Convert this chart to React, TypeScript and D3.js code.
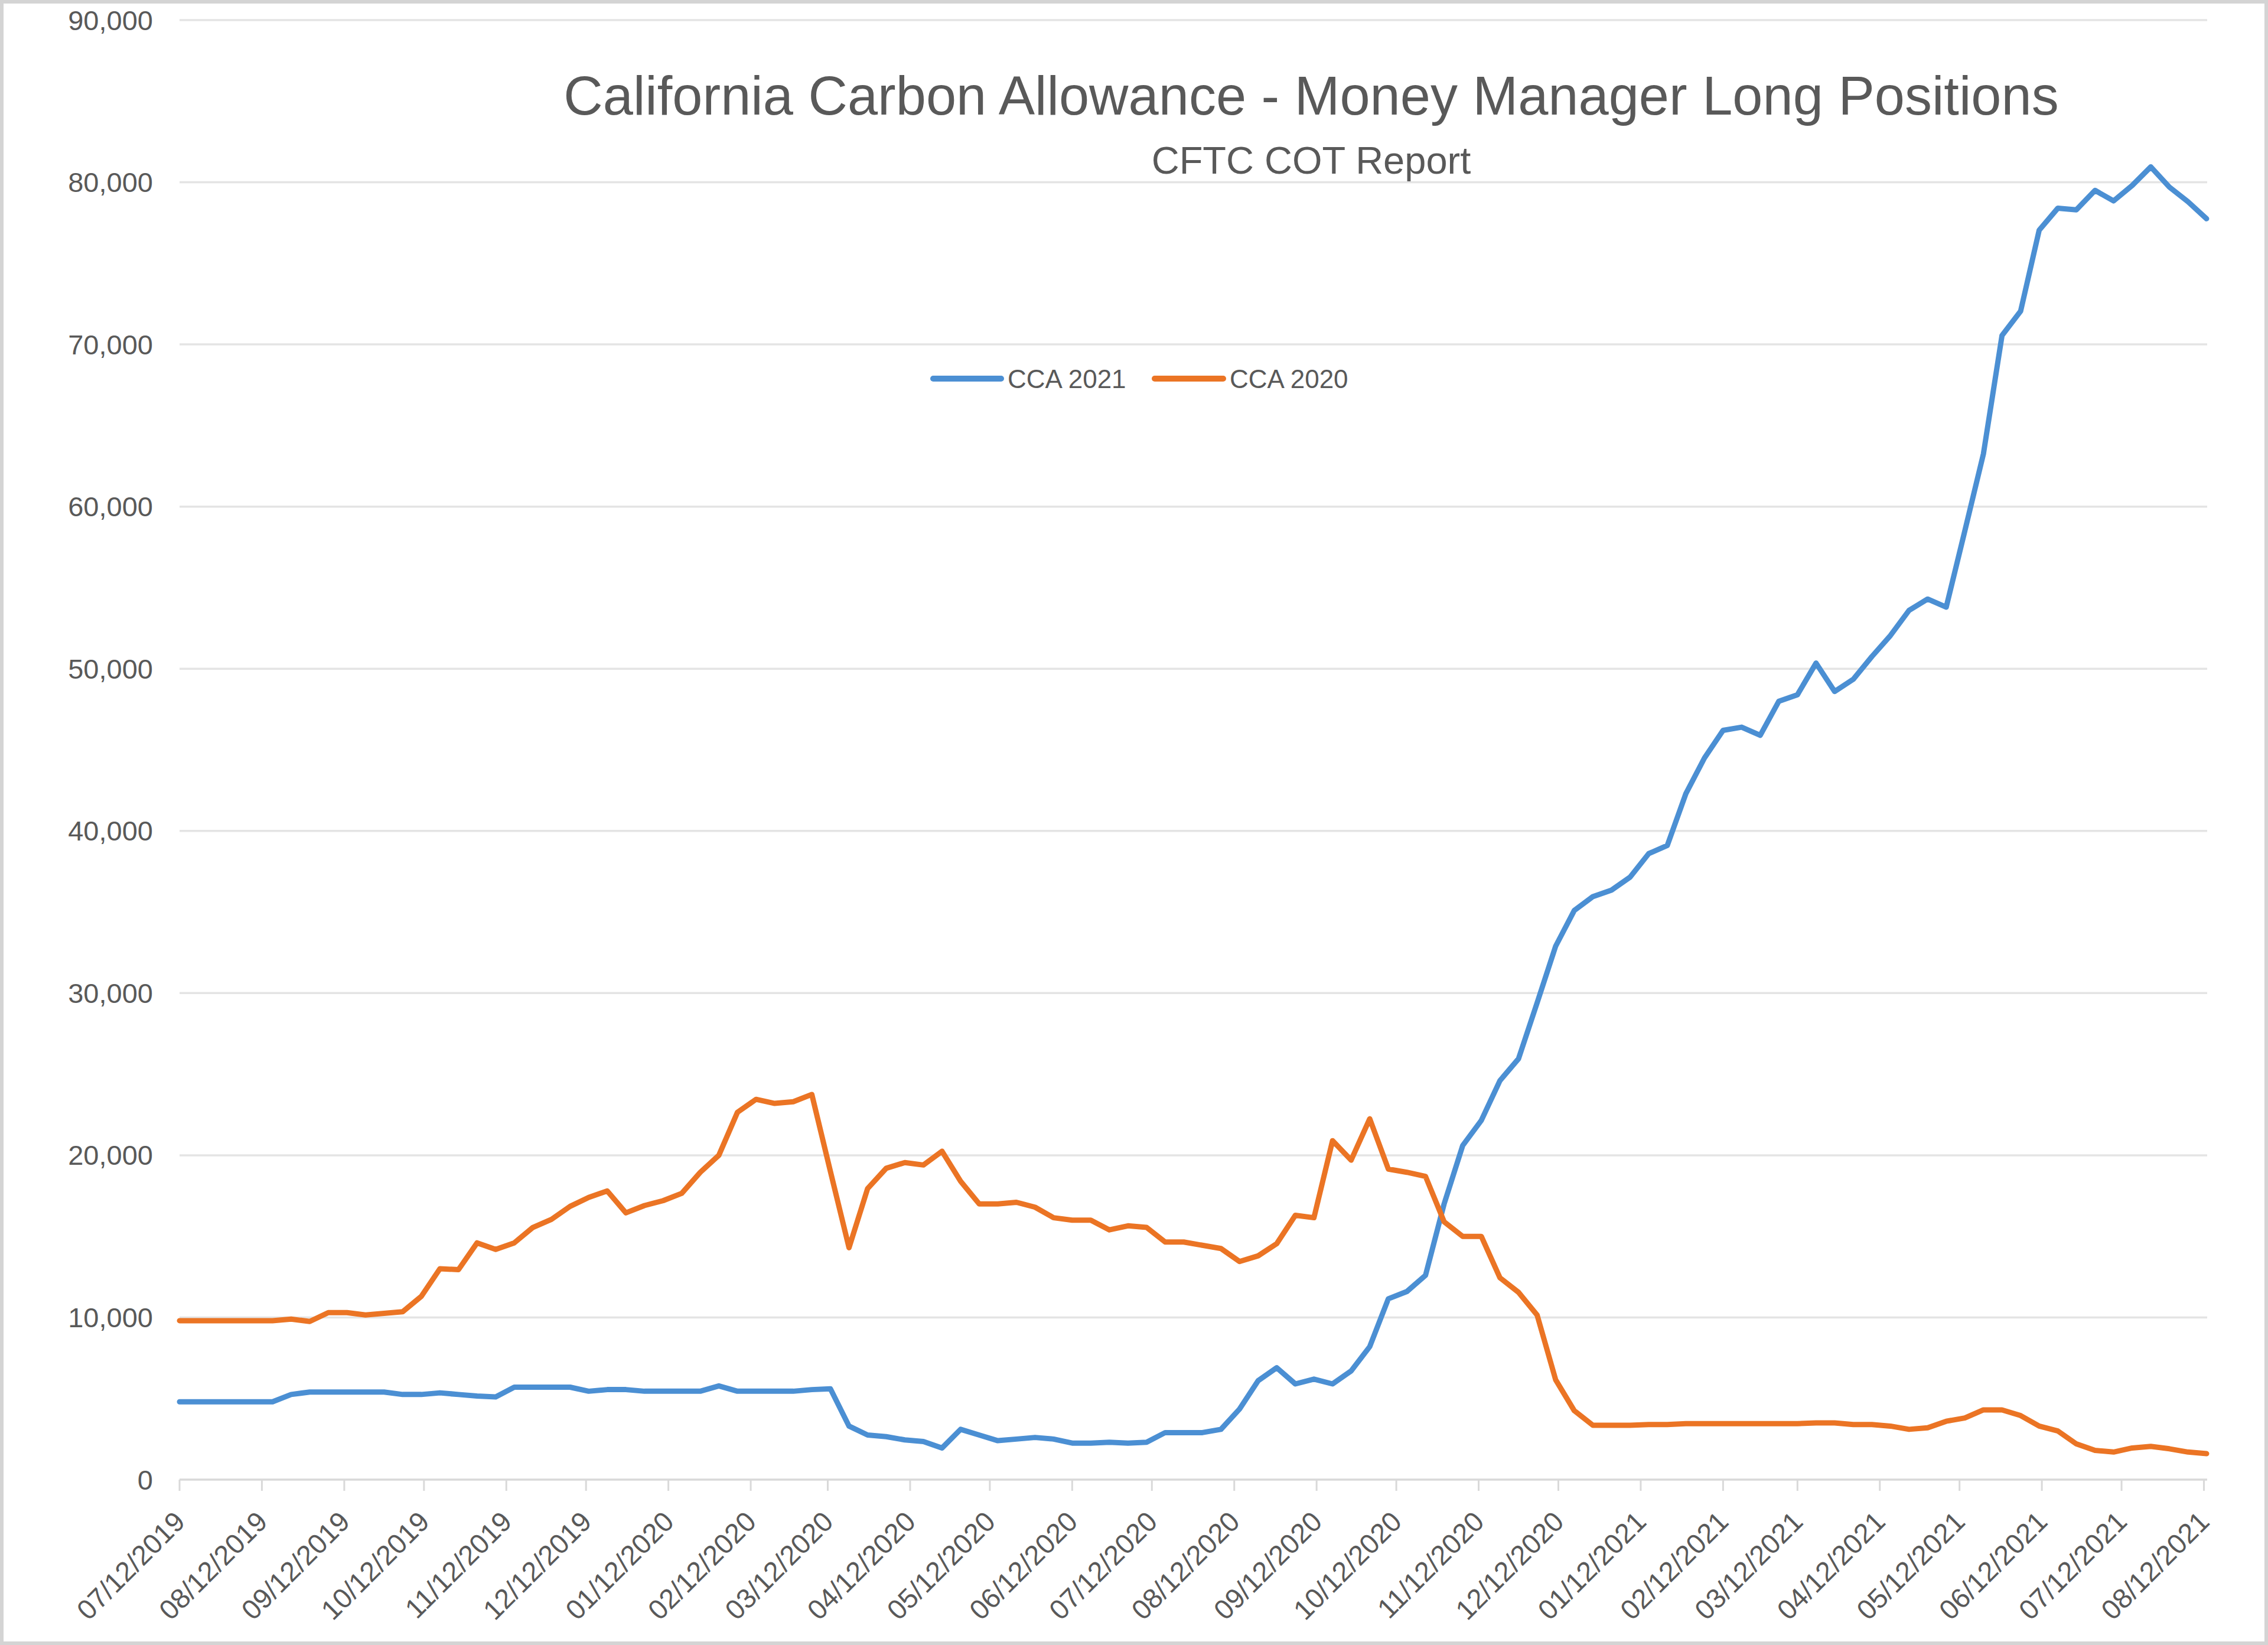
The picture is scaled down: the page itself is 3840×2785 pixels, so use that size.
import React from 'react';
import * as d3 from 'd3';

const WIDTH = 3840;
const HEIGHT = 2785;

// weekly COT report dates (Fridays), 07/12/2019 .. 08/13/2021
const weekDates = d3.timeFriday.range(new Date(2019, 6, 12), new Date(2021, 7, 14));

// money manager long positions, CCA 2021 vintage
const cca2021 = [
  4800, 4800, 4800, 4800, 4800, 4800, 5250, 5400, 5400, 5400,
  5400, 5400, 5250, 5250, 5350, 5250, 5150, 5100, 5700, 5700,
  5700, 5700, 5450, 5550, 5550, 5450, 5450, 5450, 5450, 5780,
  5450, 5450, 5450, 5450, 5550, 5600, 3300, 2750, 2650, 2450,
  2350, 1950, 3100, 2750, 2400, 2500, 2600, 2500, 2250, 2250,
  2300, 2250, 2300, 2900, 2900, 2900, 3100, 4350, 6100, 6900,
  5900, 6200, 5900, 6700, 8200, 11150, 11600, 12600, 17000, 20600,
  22150, 24600, 25950, 29400, 32900, 35100, 35950, 36350, 37150, 38600,
  39100, 42300, 44500, 46200, 46400, 45900, 48000, 48400, 50350, 48600,
  49350, 50750, 52050, 53600, 54300, 53800, 58500, 63250, 70550, 72050,
  77050, 78400, 78300, 79500, 78850, 79800, 80950, 79700, 78800, 77750,
];

// money manager long positions, CCA 2020 vintage
const cca2020 = [
  9800, 9800, 9800, 9800, 9800, 9800, 9900, 9750, 10300, 10300,
  10150, 10250, 10350, 11300, 13000, 12950, 14600, 14200, 14600, 15550,
  16050, 16850, 17400, 17800, 16450, 16900, 17200, 17650, 18950, 20000,
  22650, 23450, 23200, 23300, 23750, 19000, 14300, 17950, 19200, 19550,
  19400, 20250, 18400, 17000, 17000, 17100, 16800, 16150, 16000, 16000,
  15400, 15650, 15550, 14650, 14650, 14450, 14250, 13450, 13800, 14550,
  16300, 16150, 20900, 19700, 22250, 19150, 18950, 18700, 15900, 15000,
  15000, 12450, 11550, 10150, 6150, 4250, 3350, 3350, 3350, 3400,
  3400, 3450, 3450, 3450, 3450, 3450, 3450, 3450, 3500, 3500,
  3400, 3400, 3300, 3100, 3200, 3600, 3800, 4300, 4300, 3950,
  3300, 3000, 2200, 1800, 1700, 1950, 2050, 1900, 1700, 1600,
];

const monthTicks = [
  '07/12/2019', '08/12/2019', '09/12/2019', '10/12/2019', '11/12/2019', '12/12/2019',
  '01/12/2020', '02/12/2020', '03/12/2020', '04/12/2020', '05/12/2020', '06/12/2020',
  '07/12/2020', '08/12/2020', '09/12/2020', '10/12/2020', '11/12/2020', '12/12/2020',
  '01/12/2021', '02/12/2021', '03/12/2021', '04/12/2021', '05/12/2021', '06/12/2021',
  '07/12/2021', '08/12/2021',
];

const yTicks = [0, 10000, 20000, 30000, 40000, 50000, 60000, 70000, 80000, 90000];

const series = [
  { name: 'CCA 2021', values: cca2021, color: '#4b8fd3' },
  { name: 'CCA 2020', values: cca2020, color: '#eb7424' },
];

const FONT = "'Liberation Sans', Arial, sans-serif";
const TEXT = '#595959';

export default function App() {
  const left = 304;
  const right = 3736;
  const bottom = 2505;

  const x = d3.scaleTime()
    .domain([weekDates[0], weekDates[weekDates.length - 1]])
    .range([left, right]);
  const y = d3.scaleLinear().domain([0, 90000]).range([bottom, 34]);

  const parse = d3.timeParse('%m/%d/%Y');
  const fmt = d3.format(',');

  const lineFor = (values: number[]) =>
    d3.line<number>()
      .x((_, i) => x(weekDates[i]))
      .y(d => y(d))(values) || '';

  // legend layout
  const legend = [
    { x1: 1580, x2: 1695, tx: 1706 },
    { x1: 1955, x2: 2071, tx: 2082 },
  ];
  const legendY = 641;

  return (
    <svg
      width={WIDTH}
      height={HEIGHT}
      style={{ position: 'absolute', left: 0, top: 0, display: 'block' }}
      fontFamily={FONT}
    >
      <rect x={0} y={0} width={WIDTH} height={HEIGHT} fill="#ffffff" />
      <rect x={3} y={3} width={WIDTH - 6} height={HEIGHT - 6} fill="none" stroke="#d4d4d4" strokeWidth={6} />

      {/* Gridlines */}
      {yTicks.map(t => (
        <line key={t} x1={left} x2={right + 1} y1={y(t)} y2={y(t)}
          stroke={t === 0 ? '#d9d9d9' : '#e4e4e4'} strokeWidth={3.5} />
      ))}

      {/* Y labels */}
      {yTicks.map(t => (
        <text key={t} x={259} y={y(t)} textAnchor="end" dominantBaseline="central"
          fontSize={47} fill={TEXT}>{fmt(t)}</text>
      ))}

      {/* X ticks + labels */}
      {monthTicks.map(lbl => {
        const tx = x(parse(lbl) as Date);
        return (
          <g key={lbl}>
            <line x1={tx} x2={tx} y1={bottom} y2={bottom + 19} stroke="#d9d9d9" strokeWidth={3} />
            <text
              transform={`translate(${tx + 12},${bottom + 74}) rotate(-45)`}
              textAnchor="end"
              fontSize={47}
              fill={TEXT}
            >{lbl}</text>
          </g>
        );
      })}

      {/* Series */}
      {series.map(s => (
        <path key={s.name} d={lineFor(s.values)} fill="none" stroke={s.color}
          strokeWidth={9} strokeLinejoin="round" strokeLinecap="round" />
      ))}

      {/* Title */}
      <text x={2220} y={194} textAnchor="middle" fontSize={92} fill={TEXT}>
        California Carbon Allowance - Money Manager Long Positions
      </text>
      <text x={2220} y={294} textAnchor="middle" fontSize={65} fill={TEXT}>
        CFTC COT Report
      </text>

      {/* Legend */}
      {series.map((s, i) => (
        <g key={s.name}>
          <line x1={legend[i].x1} x2={legend[i].x2} y1={legendY} y2={legendY}
            stroke={s.color} strokeWidth={10} strokeLinecap="round" />
          <text x={legend[i].tx} y={legendY} dominantBaseline="central" fontSize={44} fill={TEXT}>
            {s.name}
          </text>
        </g>
      ))}
    </svg>
  );
}
